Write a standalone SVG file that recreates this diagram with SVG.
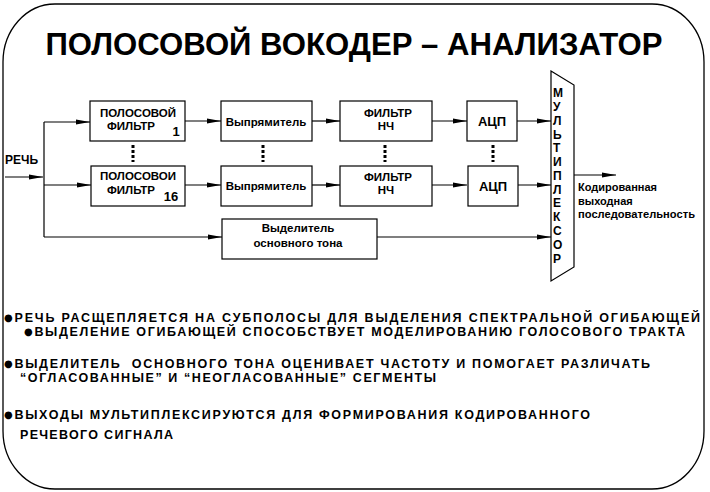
<svg xmlns="http://www.w3.org/2000/svg" width="710" height="492" viewBox="0 0 710 492">
<style>
text{font-family:"Liberation Sans",Arial,sans-serif;font-weight:bold;fill:#000}
.box{fill:#fff;stroke:#000;stroke-width:1.2}
.ln{fill:none;stroke:#000;stroke-width:1.2}
.dots{fill:none;stroke:#000;stroke-width:3;stroke-dasharray:3 2}
.bt{font-size:11.5px}
.bl{font-size:12.5px}
.bu{font-family:"DejaVu Sans",sans-serif;font-size:10px}
</style>
<defs>
<marker id="ah" markerUnits="userSpaceOnUse" markerWidth="14" markerHeight="8" refX="14" refY="4" orient="auto">
<path d="M0,1.5 L14,4 L0,6.5 z" fill="#000"/>
</marker>
</defs>
<rect x="3" y="4" width="701" height="485" rx="52" ry="58" fill="#fff" stroke="#000" stroke-width="1.3"/>
<text id="title" x="354" y="55" font-size="32" text-anchor="middle" textLength="617" lengthAdjust="spacingAndGlyphs">ПОЛОСОВОЙ  ВОКОДЕР – АНАЛИЗАТОР</text>

<g id="connectors">
<path class="ln" d="M5,177 H43" marker-end="url(#ah)"/>
<path class="ln" d="M44,122 V237"/>
<path class="ln" d="M44,122 H90" marker-end="url(#ah)"/>
<path class="ln" d="M44,185 H91" marker-end="url(#ah)"/>
<path class="ln" d="M44,237 H222" marker-end="url(#ah)"/>
<path class="ln" d="M185,121 H221" marker-end="url(#ah)"/>
<path class="ln" d="M312,121 H340" marker-end="url(#ah)"/>
<path class="ln" d="M432,121 H467" marker-end="url(#ah)"/>
<path class="ln" d="M517,121 H551" marker-end="url(#ah)"/>
<path class="ln" d="M185,185 H221" marker-end="url(#ah)"/>
<path class="ln" d="M312,185 H340" marker-end="url(#ah)"/>
<path class="ln" d="M432,185 H467" marker-end="url(#ah)"/>
<path class="ln" d="M518,185 H551" marker-end="url(#ah)"/>
<path class="ln" d="M377,237 H551" marker-end="url(#ah)"/>
<path class="ln" d="M574,175 H616" marker-end="url(#ah)"/>
<path class="dots" d="M133,145 V162"/>
<path class="dots" d="M263,145 V162"/>
<path class="dots" d="M385,145 V162"/>
<path class="dots" d="M493,145 V162"/>
</g>

<text id="input" x="5" y="164" font-size="12">РЕЧЬ</text>

<g id="bpf1">
<rect class="box" x="90" y="101" width="95" height="40"/>
<text class="bt" x="138" y="117" text-anchor="middle">ПОЛОСОВОЙ</text>
<text class="bt" x="131" y="130" text-anchor="middle">ФИЛЬТР</text>
<text x="176" y="136" font-size="13" text-anchor="middle">1</text>
</g>
<g id="bpf16">
<rect class="box" x="91" y="166" width="94" height="40"/>
<text class="bt" x="138" y="180" text-anchor="middle">ПОЛОСОВОИ</text>
<text class="bt" x="131" y="194" text-anchor="middle">ФИЛЬТР</text>
<text x="171" y="201" font-size="13" text-anchor="middle">16</text>
</g>
<g id="rect1">
<rect class="box" x="221" y="101" width="91" height="40"/>
<text class="bt" x="266" y="126" text-anchor="middle">Выпрямитель</text>
</g>
<g id="rect16">
<rect class="box" x="221" y="166" width="91" height="40"/>
<text class="bt" x="266" y="190" text-anchor="middle">Выпрямитель</text>
</g>
<g id="lpf1">
<rect class="box" x="340" y="101" width="92" height="40"/>
<text class="bt" x="388" y="117" text-anchor="middle">ФИЛЬТР</text>
<text class="bt" x="386" y="130" text-anchor="middle">НЧ</text>
</g>
<g id="lpf16">
<rect class="box" x="340" y="166" width="92" height="40"/>
<text class="bt" x="388" y="181" text-anchor="middle">ФИЛЬТР</text>
<text class="bt" x="386" y="194" text-anchor="middle">НЧ</text>
</g>
<g id="adc1">
<rect class="box" x="467" y="101" width="50" height="40"/>
<text x="492" y="126" font-size="13" text-anchor="middle">АЦП</text>
</g>
<g id="adc16">
<rect class="box" x="468" y="166" width="50" height="40"/>
<text x="493" y="191" font-size="13" text-anchor="middle">АЦП</text>
</g>
<g id="pitch">
<rect class="box" x="222" y="219" width="155" height="40"/>
<text class="bt" x="298" y="232" text-anchor="middle">Выделитель</text>
<text class="bt" x="298" y="247" text-anchor="middle">основного тона</text>
</g>
<g id="mux">
<polygon class="box" points="551,71 574,85 574,267 551,281"/>
<text font-size="12" x="553">
<tspan x="553" y="97">М</tspan><tspan x="553" y="111">У</tspan><tspan x="553" y="125">Л</tspan><tspan x="553" y="139">Ь</tspan><tspan x="553" y="152">Т</tspan><tspan x="553" y="166">И</tspan><tspan x="553" y="180">П</tspan><tspan x="553" y="194">Л</tspan><tspan x="553" y="207">Е</tspan><tspan x="553" y="221">К</tspan><tspan x="553" y="235">С</tspan><tspan x="553" y="249">О</tspan><tspan x="553" y="263">Р</tspan>
</text>
</g>
<g id="output">
<text font-size="11" x="578" y="191">Кодированная</text>
<text font-size="11" x="578" y="205">выходная</text>
<text font-size="11" x="578" y="218" textLength="117" lengthAdjust="spacingAndGlyphs">последовательность</text>
</g>

<g id="notes">
<text class="bl" x="4" y="322" textLength="696" lengthAdjust="spacing"><tspan class="bu" dy="-1.5">●</tspan><tspan dy="1.5">РЕЧЬ РАСЩЕПЛЯЕТСЯ НА СУБПОЛОСЫ ДЛЯ ВЫДЕЛЕНИЯ СПЕКТРАЛЬНОЙ ОГИБАЮЩЕЙ</tspan></text>
<text class="bl" x="24" y="336" textLength="661" lengthAdjust="spacing"><tspan class="bu" dy="-1.5">●</tspan><tspan dy="1.5">ВЫДЕЛЕНИЕ ОГИБАЮЩЕЙ СПОСОБСТВУЕТ МОДЕЛИРОВАНИЮ ГОЛОСОВОГО ТРАКТА</tspan></text>
<text class="bl" x="4" y="368" textLength="646" lengthAdjust="spacing" xml:space="preserve"><tspan class="bu" dy="-1.5">●</tspan><tspan dy="1.5">ВЫДЕЛИТЕЛЬ  ОСНОВНОГО ТОНА ОЦЕНИВАЕТ ЧАСТОТУ И ПОМОГАЕТ РАЗЛИЧАТЬ</tspan></text>
<text class="bl" x="20" y="382" textLength="416" lengthAdjust="spacing">“ОГЛАСОВАННЫЕ” И “НЕОГЛАСОВАННЫЕ” СЕГМЕНТЫ</text>
<text class="bl" x="4" y="419" textLength="586" lengthAdjust="spacing"><tspan class="bu" dy="-1.5">●</tspan><tspan dy="1.5">ВЫХОДЫ МУЛЬТИПЛЕКСИРУЮТСЯ ДЛЯ ФОРМИРОВАНИЯ КОДИРОВАННОГО</tspan></text>
<text class="bl" x="20" y="439" textLength="153" lengthAdjust="spacing">РЕЧЕВОГО СИГНАЛА</text>
</g>
</svg>
